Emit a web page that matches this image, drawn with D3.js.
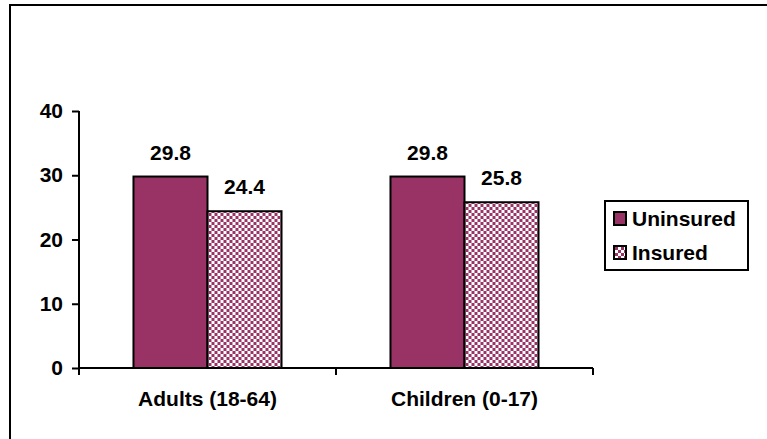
<!DOCTYPE html>
<html><head><meta charset="utf-8">
<script src="https://cdn.jsdelivr.net/npm/d3@7"></script>
<style>html,body{margin:0;padding:0;background:#fff;}svg{display:block;}text{font-family:Arial,"Liberation Sans",sans-serif;font-weight:bold;fill:#000;}</style>
</head><body>
<script>
const categories = ["Adults (18-64)", "Children (0-17)"];
const seriesNames = ["Uninsured", "Insured"];
const uninsured = [29.8, 29.8];
const insured = [24.4, 25.8];
const yTicks = [0, 10, 20, 30, 40];

const W = 767, H = 439;
const color = "#993366";
const FS = "21px";
const svg = d3.select("body").append("svg").attr("width", W).attr("height", H);

const defs = svg.append("defs");
const pat = defs.append("pattern").attr("id", "chk").attr("patternUnits", "userSpaceOnUse")
  .attr("width", 6).attr("height", 6);
pat.append("rect").attr("width", 6).attr("height", 6).attr("fill", "#fff");
pat.append("rect").attr("width", 3).attr("height", 3).attr("fill", color);
pat.append("rect").attr("x", 3).attr("y", 3).attr("width", 3).attr("height", 3).attr("fill", color);

// outer frame
svg.append("rect").attr("x", 10).attr("y", 5).attr("width", 800).attr("height", 500)
  .attr("fill", "none").attr("stroke", "#000").attr("stroke-width", 2);

const x0 = d3.scaleBand().domain(categories).range([79, 593]).paddingInner(0.424).paddingOuter(0.212);
const x1 = d3.scaleBand().domain(seriesNames).range([0, x0.bandwidth()]);
const y = d3.scaleLinear().domain([0, 40]).range([368, 111]);

const data = categories.map((c, i) => ({cat: c, vals: [
  {s: "Uninsured", v: uninsured[i]}, {s: "Insured", v: insured[i]}]}));

const fills = {Uninsured: color, Insured: "url(#chk)"};

const g = svg.selectAll("g.grp").data(data).enter().append("g")
  .attr("transform", d => `translate(${x0(d.cat)},0)`);
g.selectAll("rect").data(d => d.vals).enter().append("rect")
  .attr("x", d => x1(d.s)).attr("y", d => y(d.v))
  .attr("width", x1.bandwidth()).attr("height", d => y(0) - y(d.v))
  .attr("fill", d => fills[d.s]).attr("stroke", "#000").attr("stroke-width", 2);
g.selectAll("text").data(d => d.vals).enter().append("text")
  .attr("x", d => x1(d.s) + x1.bandwidth() / 2).attr("y", d => y(d.v) - 17)
  .attr("text-anchor", "middle").style("font-size", FS)
  .text(d => d.v.toFixed(1));

// y axis
const yAxis = d3.axisLeft(y).tickValues(yTicks).tickSize(7).tickPadding(9);
const ya = svg.append("g").attr("transform", "translate(79,0)").call(yAxis);
ya.select(".domain").attr("d", "M0,111V375").attr("stroke-width", 2);
ya.selectAll(".tick line").attr("stroke-width", 2);
ya.selectAll(".tick text").style("font-size", FS).style("font-family", "Arial, 'Liberation Sans', sans-serif").style("font-weight", "bold");

// x axis
const xa = svg.append("g").attr("transform", "translate(0,368)");
xa.append("line").attr("x1", 79).attr("x2", 593).attr("stroke", "#000").attr("stroke-width", 2);
xa.selectAll("line.tk").data([79 + x0.step(), 593]).enter().append("line").attr("class", "tk")
  .attr("x1", d => d).attr("x2", d => d).attr("y1", 0).attr("y2", 7)
  .attr("stroke", "#000").attr("stroke-width", 2);
xa.selectAll("text").data(categories).enter().append("text")
  .attr("x", d => x0(d) + x0.bandwidth() / 2).attr("y", 38)
  .attr("text-anchor", "middle").style("font-size", FS).text(d => d);

// legend
const lg = svg.append("g");
lg.append("rect").attr("x", 605).attr("y", 201).attr("width", 143).attr("height", 69)
  .attr("fill", "#fff").attr("stroke", "#000").attr("stroke-width", 2);
const items = lg.selectAll("g.it").data(seriesNames).enter().append("g")
  .attr("transform", (d, i) => `translate(0,${i * 34})`);
items.append("rect").attr("x", 614).attr("y", 212).attr("width", 12).attr("height", 13)
  .attr("fill", d => fills[d]).attr("stroke", "#000").attr("stroke-width", 2);
items.append("text").attr("x", 632).attr("y", 226).style("font-size", FS).text(d => d);
</script>
</body></html>
